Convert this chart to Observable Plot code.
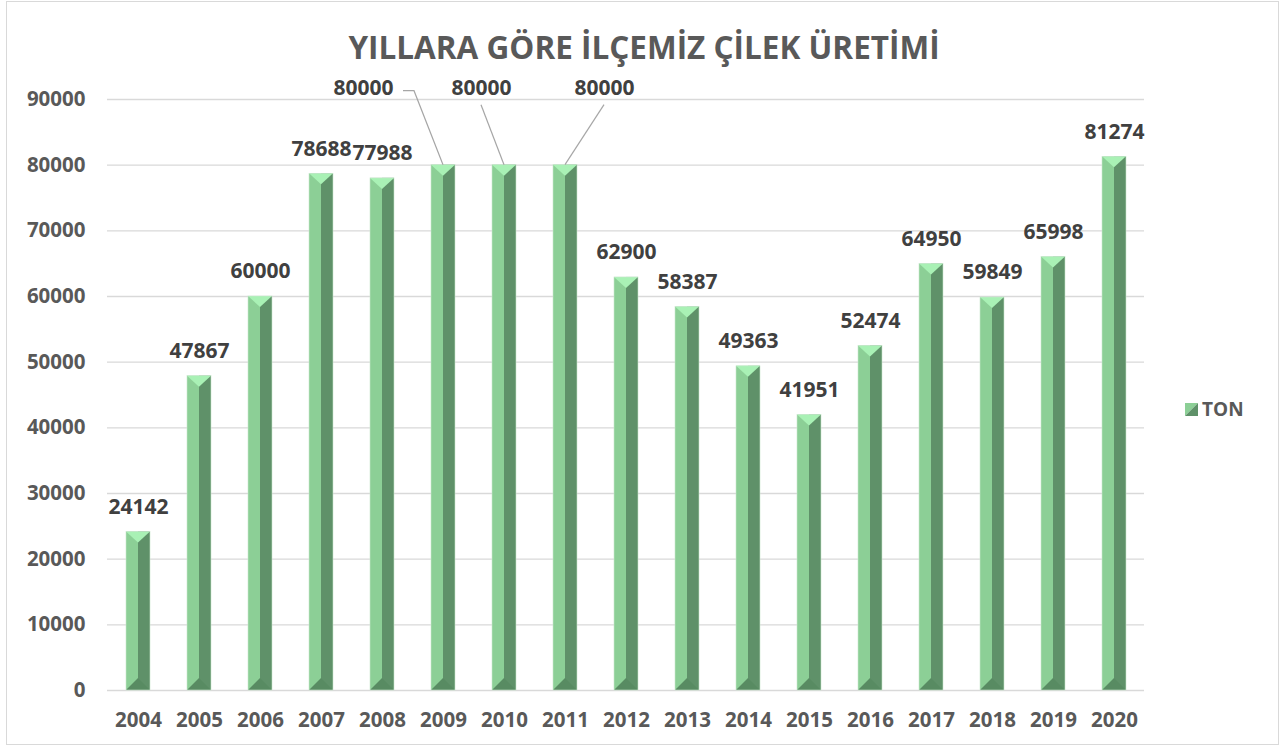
<!DOCTYPE html>
<html>
<head>
<meta charset="utf-8">
<script src="https://cdn.jsdelivr.net/npm/d3@7"></script>
<script src="https://cdn.jsdelivr.net/npm/@observablehq/plot@0.6"></script>
<style>
  html, body { margin: 0; padding: 0; background: #ffffff; }
  #wrap { position: relative; width: 1285px; height: 749px; overflow: hidden; font-family: "Open Sans", sans-serif; }
  #frame { position: absolute; left: 6px; top: 1px; width: 1273px; height: 744px; border: 1.5px solid #d9d9d9; box-sizing: border-box; pointer-events: none; }
  #title { position: absolute; left: 0; width: 1288px; top: 25px; text-align: center; font-size: 31.5px; font-weight: 700; color: #595959; white-space: nowrap; }
  #legend { position: absolute; left: 1185px; top: 396px; display: flex; align-items: center; font-size: 19px; font-weight: 700; color: #595959; }
  #legend svg { margin-right: 4px; }
  #chart { position: absolute; left: 0; top: 0; }
</style>
</head>
<body>
<div id="wrap">
  <div id="chart"></div>
  <div id="frame"></div>
  <div id="title">YILLARA GÖRE İLÇEMİZ ÇİLEK ÜRETİMİ</div>
  <div id="legend"><svg width="13" height="13"><polygon points="0,0 13,0 0,13" fill="#8ccf96"/><polygon points="13,0 13,13 0,13" fill="#5f9169"/></svg><span id="legendText">TON</span></div>
</div>
<script>
const years = ["2004","2005","2006","2007","2008","2009","2010","2011","2012","2013","2014","2015","2016","2017","2018","2019","2020"];
const tons = [24142,47867,60000,78688,77988,80000,80000,80000,62900,58387,49363,41951,52474,64950,59849,65998,81274];
const yTicks = [0,10000,20000,30000,40000,50000,60000,70000,80000,90000];
const seriesName = "TON";
const leaderYears = ["2009","2010","2011"];

const data = years.map((y, i) => ({year: y, value: tons[i]}));
const plain = data.filter(d => !leaderYears.includes(d.year));

const labelStyle = {fill: "#404040", fontSize: 21, fontWeight: "bold"};

const chart = Plot.plot({
  width: 1285,
  height: 749,
  marginLeft: 107,
  marginRight: 141,
  marginTop: 99,
  marginBottom: 59,
  style: {fontFamily: "Open Sans", fontSize: "20.5px", fontWeight: "bold", color: "#595959", background: "transparent", overflow: "visible"},
  x: {domain: years, paddingInner: 0.607, paddingOuter: 0.3035, align: 0.5, tickSize: 0, tickPadding: 22, label: null},
  y: {domain: [0, 90000], ticks: yTicks, tickFormat: d => String(d), tickSize: 0, tickPadding: 22, label: null},
  marks: [
    Plot.ruleY(yTicks, {stroke: "#d9d9d9", strokeWidth: 1.3}),
    Plot.barY(data, {x: "year", y: "value", fill: "#8ccf96"}),
    Plot.barY(data, {x: "year", y: "value", fill: "#5f9169", insetLeft: 12}),
    Plot.text(plain, {x: "year", y: "value", text: d => String(d.value), dy: -25, ...labelStyle}),
    Plot.text(data.filter(d => d.year === "2009"), {x: "year", y: "value", text: d => String(d.value), dx: -80, dy: -77, ...labelStyle}),
    Plot.text(data.filter(d => d.year === "2010"), {x: "year", y: "value", text: d => String(d.value), dx: -23, dy: -77, ...labelStyle}),
    Plot.text(data.filter(d => d.year === "2011"), {x: "year", y: "value", text: d => String(d.value), dx: 39, dy: -77, ...labelStyle})
  ]
});

document.getElementById("chart").appendChild(chart);
document.getElementById("legendText").textContent = seriesName;

// 3D bevel decoration derived from the rendered bar geometry
const ns = "http://www.w3.org/2000/svg";
const barGroups = chart.querySelectorAll('g[aria-label="bar"]');
const faceG = barGroups[0];
const sideG = barGroups[1];
if (faceG) {
  const deco = document.createElementNS(ns, "g");
  if (faceG.getAttribute("transform")) deco.setAttribute("transform", faceG.getAttribute("transform"));
  const rects = faceG.querySelectorAll("rect");
  const tops = [];
  rects.forEach((r, i) => {
    const x0 = +r.getAttribute("x"), w = +r.getAttribute("width");
    const y0 = +r.getAttribute("y"), h = +r.getAttribute("height");
    const x1 = x0 + w, xm = x0 + w / 2, yb = y0 + h;
    const top = document.createElementNS(ns, "polygon");
    top.setAttribute("points", `${x0},${y0} ${x1},${y0} ${xm},${y0 + 11}`);
    top.setAttribute("fill", "#a9f1b5");
    deco.appendChild(top);
    const bot = document.createElementNS(ns, "polygon");
    bot.setAttribute("points", `${x0},${yb} ${xm},${yb - 12} ${x1},${yb}`);
    bot.setAttribute("fill", "#588b62");
    deco.appendChild(bot);
    const outline = document.createElementNS(ns, "rect");
    outline.setAttribute("x", x0); outline.setAttribute("y", y0);
    outline.setAttribute("width", w); outline.setAttribute("height", h);
    outline.setAttribute("fill", "none"); outline.setAttribute("stroke", "#c9e6cd"); outline.setAttribute("stroke-width", 0.6);
    deco.appendChild(outline);
    tops.push({year: data[i].year, x: xm, y: y0});
  });
  (sideG || faceG).after(deco);

  // leader lines for the shifted labels
  const leaders = {"2009": [[-29, -74], [-40, -74]], "2010": [[-23, -60]], "2011": [[39, -60]]};
  const lg = document.createElementNS(ns, "g");
  if (faceG.getAttribute("transform")) lg.setAttribute("transform", faceG.getAttribute("transform"));
  tops.filter(t => leaders[t.year]).forEach(t => {
    const pts = [[t.x, t.y], ...leaders[t.year].map(([dx, dy]) => [t.x + dx, t.y + dy])];
    const p = document.createElementNS(ns, "polyline");
    p.setAttribute("points", pts.map(q => q.join(",")).join(" "));
    p.setAttribute("fill", "none");
    p.setAttribute("stroke", "#a6a6a6");
    p.setAttribute("stroke-width", 1.2);
    lg.appendChild(p);
  });
  chart.appendChild(lg);
}
</script>
</body>
</html>
